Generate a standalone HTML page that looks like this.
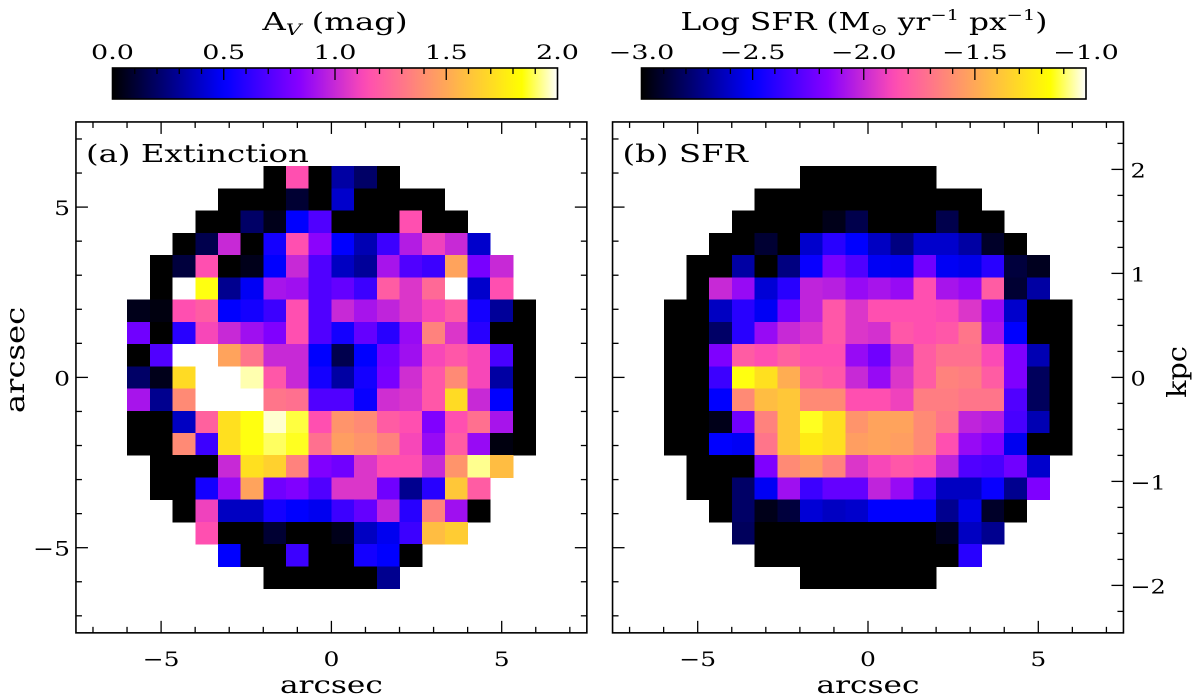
<!DOCTYPE html>
<html><head><meta charset="utf-8"><style>
html,body{margin:0;padding:0;background:#fff;}
svg{display:block;font-family:"DejaVu Serif","Liberation Serif",serif;}
</style></head><body>
<svg id="fig" width="1200" height="696" viewBox="0 0 1200 696" xmlns="http://www.w3.org/2000/svg">
<defs>
<linearGradient id="g2" x1="0" x2="1" y1="0" y2="0"></linearGradient>
</defs>
<g id="root"></g>
<g transform="translate(335,30) scale(1.35,1)">
<text x="0" y="0" font-size="24" text-anchor="middle">A<tspan font-size="16" font-style="italic" dy="5">V</tspan><tspan dy="-5"> (mag)</tspan></text>
</g>
<g transform="translate(864,30) scale(1.3,1)">
<text x="0" y="0" font-size="24" text-anchor="middle">Log SFR (M<tspan font-size="16" dy="5">⊙</tspan><tspan dy="-5"> yr</tspan><tspan font-size="15" dy="-10">−1</tspan><tspan dy="10"> px</tspan><tspan font-size="15" dy="-10">−1</tspan><tspan dy="10">)</tspan></text>
</g>
</svg>
<script>
const N = null;
// Panel (a): extinction A_V (mag), 19 rows (top->bottom) x 18 columns
const avRows = [
[N,N,N,N,N,N,0,1.15,0,0.32,0.2,0,N,N,N,N,N,N],
[N,N,N,N,0,0,0,0.1,0,0.4,0,0,0,0,N,N,N,N],
[N,N,N,0,0,0.2,0.05,0.5,0.7,0,0,0,1.15,0,0,N,N,N],
[N,N,0,0.15,1.0,0,0.55,1.15,0.85,0.5,0.35,0.65,0.95,1.1,1.0,0.4,N,N],
[N,0,0.12,1.15,0,0.05,0.5,1.0,0.7,0.38,0.3,0.92,0.7,0.65,1.48,0.8,1.0,N],
[N,0,2,1.85,0.28,0.48,0.92,0.9,0.7,0.75,0.65,1.2,1.05,1.25,2,0.4,1.15,N],
[0.05,0.03,1.15,1.2,0.5,0.55,0.65,1.15,0.7,1.0,0.92,0.98,1.05,1.12,1.2,0.55,0.3,0],
[0.78,0,0.6,1.12,1.0,0.9,0.82,1.15,0.7,0.55,0.75,0.6,0.88,1.35,1.05,0.6,0,0],
[0,0.7,2,2,1.48,1.3,1.0,1.0,0.5,0.15,0.5,0.78,0.9,1.12,1.18,1.12,0.68,0],
[0.2,0.05,1.7,2,2,1.95,1.18,1.0,0.55,0.32,0.55,0.8,1.02,1.18,1.38,1.12,0.32,0],
[0.92,0.28,1.38,2,2,2,1.3,1.28,0.7,0.7,0.52,1.02,1.05,1.18,1.7,1.0,0.5,0],
[0,0,0.38,1.22,1.72,1.85,1.97,1.88,1.15,1.42,1.38,1.2,1.15,0.82,1.15,1.28,0.92,0],
[0,0,1.38,0.65,1.72,1.85,1.9,1.86,1.28,1.46,1.42,1.35,1.12,0.88,1.2,0.88,0.03,0],
[N,0,0,0,1.0,1.72,1.66,1.35,0.82,0.78,1.05,1.15,1.15,1.0,1.42,1.93,1.58,N],
[N,0,0,0.55,0.88,1.48,0.78,0.82,0.7,1.05,1.05,0.78,0.28,0.6,1.62,1.2,N,N],
[N,N,0,1.1,0.38,0.38,0.55,0.5,0.47,0.65,0.75,0.98,0.6,1.35,0.9,0,N,N],
[N,N,N,1.15,0,0,0.1,0,0,0.05,0.38,0.47,0.65,1.58,1.64,N,N,N],
[N,N,N,N,0.5,0,0,0.65,0,0,0.55,0.5,0,N,N,N,N,N],
[N,N,N,N,N,N,0,0,0,0,0,0.28,N,N,N,N,N,N]
];
// Panel (b): log SFR
const sfrRows = [
[N,N,N,N,N,N,-3,-3,-3,-3,-3,-3,N,N,N,N,N,N],
[N,N,N,N,-3,-3,-3,-3,-3,-3,-3,-3,-3,-3,N,N,N,N],
[N,N,N,-3,-3,-3,-3,-2.95,-2.85,-3,-3,-3,-2.85,-3,-3,N,N,N],
[N,N,-3,-3,-2.9,-3,-2.6,-2.4,-2.5,-2.62,-2.75,-2.6,-2.6,-2.68,-2.92,-3,N,N],
[N,-3,-3,-2.68,-3,-2.75,-2.48,-2.2,-2.3,-2.52,-2.53,-2.22,-2.52,-2.54,-2.4,-2.88,-2.94,N],
[N,-3,-2.0,-2.12,-2.58,-2.4,-2.02,-2.04,-2.12,-2.08,-2.12,-1.85,-2.08,-2.12,-1.8,-2.9,-2.68,N],
[-3,-3,-2.62,-2.4,-2.52,-2.22,-2.02,-1.82,-1.95,-1.85,-1.85,-1.85,-1.87,-1.95,-2.12,-2.6,-3,-3],
[-3,-3,-2.8,-2.4,-2.12,-2.0,-1.95,-1.82,-1.95,-1.97,-1.82,-1.85,-1.82,-1.7,-2.08,-2.5,-3,-3],
[-3,-3,-2.18,-1.8,-1.85,-1.78,-1.85,-1.85,-2.12,-2.22,-2.0,-1.8,-1.72,-1.72,-1.87,-2.18,-2.65,-3],
[-3,-3,-2.35,-1.15,-1.28,-1.48,-1.78,-1.82,-2.0,-2.12,-1.95,-1.8,-1.65,-1.67,-1.8,-2.18,-2.82,-3],
[-3,-3,-2.5,-1.62,-1.42,-1.38,-1.62,-1.62,-1.85,-1.85,-1.9,-1.67,-1.67,-1.7,-1.7,-2.3,-2.82,-3],
[-3,-3,-2.95,-2.22,-1.65,-1.38,-1.14,-1.28,-1.58,-1.52,-1.52,-1.62,-1.7,-2.02,-2.05,-2.32,-2.65,-3],
[-3,-3,-2.5,-2.52,-1.7,-1.38,-1.24,-1.28,-1.54,-1.52,-1.54,-1.62,-1.85,-2.12,-2.18,-2.53,-3,-3],
[N,-3,-3,-3,-2.18,-1.62,-1.55,-1.65,-1.95,-1.88,-1.82,-1.85,-2.02,-2.3,-2.32,-2.22,-2.6,N],
[N,-3,-3,-2.8,-2.52,-2.1,-2.35,-2.25,-2.25,-2.02,-2.12,-2.35,-2.62,-2.62,-2.48,-2.72,-2.18,N],
[N,N,-3,-2.8,-2.95,-2.88,-2.58,-2.62,-2.6,-2.5,-2.5,-2.5,-2.72,-2.55,-2.92,-3,N,N],
[N,N,N,-2.82,-3,-3,-3,-3,-3,-3,-3,-3,-2.94,-2.62,-2.72,N,N,N],
[N,N,N,N,-3,-3,-3,-3,-3,-3,-3,-3,-3,-2.4,N,N,N,N],
[N,N,N,N,N,N,-3,-3,-3,-3,-3,-3,N,N,N,N,N,N]
];
const avTicks = [0.0,0.5,1.0,1.5,2.0];
const avTickLabels = ["0.0","0.5","1.0","1.5","2.0"];
const sfrTicks = [-3.0,-2.5,-2.0,-1.5,-1.0];
const sfrTickLabels = ["\u22123.0","\u22122.5","\u22122.0","\u22121.5","\u22121.0"];
const arcTicks = [-5,0,5];
const arcTickLabels = ["\u22125","0","5"];
const kpcTicks = [-2,-1,0,1,2];
const kpcTickLabels = ["\u22122","\u22121","0","1","2"];

const NS = "http://www.w3.org/2000/svg";
const root = document.getElementById("root");
function mk(tag, attrs, parent){const e=document.createElementNS(NS,tag);for(const k in attrs)e.setAttribute(k,attrs[k]);(parent||root).appendChild(e);return e;}
function txt(parent,x,y,size,anchor,stretch,rot,str){
  const tr = rot ? `translate(${x},${y}) rotate(-90) scale(${stretch},1)` : `translate(${x},${y}) scale(${stretch},1)`;
  const t=mk("text",{x:0,y:0,"font-size":size,"text-anchor":anchor,transform:tr},parent);
  t.textContent=str; return t;
}
function clip(v){return Math.max(0,Math.min(1,v));}
function gnuplot2(x){
  const r=clip(x/0.32-0.78125), g=clip(2*x-0.84);
  let b; if(x<0.25)b=4*x; else if(x<0.42)b=1; else if(x<0.92)b=-2*x+1.84; else b=x/0.08-11.5;
  b=clip(b);
  return `rgb(${Math.round(r*255)},${Math.round(g*255)},${Math.round(b*255)})`;
}
const grad=document.getElementById("g2");
for(let i=0;i<=50;i++){const s=document.createElementNS(NS,"stop");s.setAttribute("offset",(i/50).toFixed(3));s.setAttribute("stop-color",gnuplot2(i/50));grad.appendChild(s);}

const AX = 34.06, COLW = 0.666*AX, ROWH = 0.653*AX;
function panel(cfg){
  const g=mk("g",{});
  
  
  const L=cfg.cx-7.5*AX, R=cfg.cx+7.5*AX, T=cfg.cy-7.5*AX, B=cfg.cy+7.5*AX;
  const xs=v=>cfg.cx+v*AX, ys=v=>cfg.cy-v*AX;
  const rows=cfg.rows, nr=rows.length, nc=rows[0].length;
  for(let r=0;r<nr;r++)for(let c=0;c<nc;c++){
    const v=rows[r][c]; if(v===null)continue;
    const x0=xs((c-nc/2)*0.666), y0=ys((nr/2-r)*0.653);
    const cell=mk("rect",{x:x0.toFixed(2),y:y0.toFixed(2),width:(COLW+0.4).toFixed(2),height:(ROWH+0.4).toFixed(2),fill:gnuplot2(clip((v-cfg.vmin)/(cfg.vmax-cfg.vmin))),"shape-rendering":"crispEdges"},g);
    
    
  }
  const fr=mk("rect",{x:L,y:T,width:R-L,height:B-T,fill:"none",stroke:"#000","stroke-width":1.6},g);
  
  
  for(let v=-7;v<=7;v++){
    const len=(v%5===0)?12:6;
    mk("line",{x1:xs(v),x2:xs(v),y1:B,y2:B-len,stroke:"#000","stroke-width":1.3},g);
    mk("line",{x1:xs(v),x2:xs(v),y1:T,y2:T+len,stroke:"#000","stroke-width":1.3},g);
    mk("line",{x1:L,x2:L+len,y1:ys(v),y2:ys(v),stroke:"#000","stroke-width":1.3},g);
    if(!cfg.kpc) mk("line",{x1:R,x2:R-len,y1:ys(v),y2:ys(v),stroke:"#000","stroke-width":1.3},g);
  }
  arcTicks.forEach((v,i)=>{
    const t=txt(g,xs(v),666,20,"middle",1.25,false,arcTickLabels[i]);
    
    
    if(cfg.ylabels){const u=txt(g,70,ys(v)+8,20,"end",1.25,false,arcTickLabels[i]);
      
      }
  });
  const xl=txt(g,cfg.cx,693,24,"middle",1.3,false,"arcsec");
  
  
  const lab=txt(g,L+10,162,24,"start",1.35,false,cfg.label);
  
  
  if(cfg.kpc){
    const KP=104;
    for(let k=-9;k<=9;k++){const v=k*0.25, y=cfg.cy-v*KP; if(y<T+2||y>B-2)continue;
      mk("line",{x1:R,x2:R-(k%4===0?12:6),y1:y,y2:y,stroke:"#000","stroke-width":1.3},g);}
    kpcTicks.forEach((v,i)=>{const t=txt(g,R+7,cfg.cy-v*KP+8,20,"start",1.2,false,kpcTickLabels[i]);
      
      });
    const kl=txt(g,1186,372,26,"middle",1.1,true,"kpc");
    
    
  }
  if(cfg.ylabels){
    const yl=txt(g,24,360,26,"middle",1.24,true,"arcsec");
    
    
  }
}
function colorbar(cfg){
  const g=mk("g",{});
  
  
  const x0=cfg.x0,x1=cfg.x1,y0=68,y1=99;
  const sx=v=>x0+(v-cfg.vmin)/(cfg.vmax-cfg.vmin)*(x1-x0);
  mk("rect",{x:x0,y:y0,width:x1-x0,height:y1-y0,fill:"url(#g2)",stroke:"#000","stroke-width":1.6},g);
  const step=(cfg.vmax-cfg.vmin)/20;
  for(let i=1;i<20;i++){const v=cfg.vmin+i*step;
    mk("line",{x1:sx(v),x2:sx(v),y1:y0,y2:y0+(i%5===0?12:6),stroke:"#000","stroke-width":1.3},g);}
  cfg.ticks.forEach((v,i)=>{const t=txt(g,sx(v),59,20,"middle",1.35,false,cfg.labels[i]);
    
    });
}
panel({name:"extinction-panel",cx:331.4,cy:377.4,rows:avRows,vmin:0,vmax:2,label:"(a) Extinction",ylabels:true,kpc:false});
panel({name:"sfr-panel",cx:868,cy:377.4,rows:sfrRows,vmin:-3,vmax:-1,label:"(b) SFR",ylabels:false,kpc:true});
colorbar({name:"av-colorbar",x0:112.5,x1:557.5,vmin:0,vmax:2,ticks:avTicks,labels:avTickLabels});
colorbar({name:"sfr-colorbar",x0:641.5,x1:1086,vmin:-3,vmax:-1,ticks:sfrTicks,labels:sfrTickLabels});
</script>
</body></html>
